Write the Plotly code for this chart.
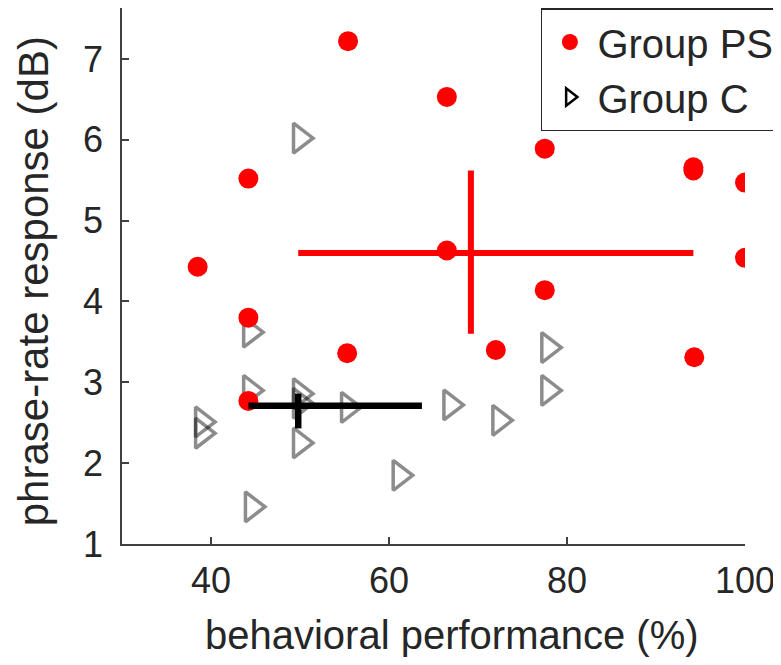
import plotly.graph_objects as go

# Group PS (red filled circles)
ps_perf = [55.4, 66.5, 77.5, 44.2, 94.2, 94.2, 100.0, 38.5, 66.5, 100.0, 77.5, 44.2, 55.3, 72.0, 94.3, 44.2]
ps_resp = [7.22, 6.53, 5.89, 5.52, 5.66, 5.62, 5.47, 4.43, 4.63, 4.54, 4.14, 3.80, 3.36, 3.40, 3.31, 2.77]

# Group C (open right triangles)
c_perf = [50.0, 44.4, 44.4, 50.0, 50.0, 55.4, 39.0, 39.0, 50.0, 61.2, 44.6, 66.9, 72.4, 77.9, 77.9]
c_resp = [6.02, 3.62, 2.90, 2.86, 2.74, 2.69, 2.51, 2.37, 2.25, 1.85, 1.46, 2.72, 2.53, 3.43, 2.90]

# summary crosses: centre, horizontal extent (minus/plus), vertical extent (minus/plus)
ps_center = [69.2, 4.60]
ps_x_err = [19.4, 25.0]
ps_y_err = [1.00, 1.02]

c_center = [49.8, 2.71]
c_x_err = [5.6, 13.9]
c_y_err = [0.28, 0.15]

x_ticks = [40, 60, 80, 100]
y_ticks = [1, 2, 3, 4, 5, 6, 7]

x_title = "behavioral performance (%)"
y_title = "phrase-rate response (dB)"

FONT = "Liberation Sans, Arial, Helvetica, sans-serif"
TXT = "#262626"

fig = go.Figure()

fig.add_trace(go.Scatter(
    x=c_perf, y=c_resp, mode="markers", showlegend=False,
    marker=dict(symbol="triangle-right-open", size=26, color="rgba(0,0,0,0.45)",
                line=dict(width=3.5, color="rgba(0,0,0,0.45)")),
))

fig.add_trace(go.Scatter(
    x=ps_perf, y=ps_resp, mode="markers", name="Group PS",
    marker=dict(symbol="circle", size=20, color="#ff0000", line=dict(width=0)),
))

# legend-only entry for Group C (black)
fig.add_trace(go.Scatter(
    x=[None], y=[None], mode="markers", name="Group C",
    marker=dict(symbol="triangle-right-open", size=15, color="black",
                line=dict(width=2.5, color="black")),
))

fig.add_trace(go.Scatter(
    x=[ps_center[0]], y=[ps_center[1]], mode="markers", showlegend=False,
    marker=dict(size=1, color="rgba(0,0,0,0)"),
    error_x=dict(type="data", symmetric=False, array=[ps_x_err[1]], arrayminus=[ps_x_err[0]],
                 color="#ff0000", thickness=6, width=0),
    error_y=dict(type="data", symmetric=False, array=[ps_y_err[1]], arrayminus=[ps_y_err[0]],
                 color="#ff0000", thickness=6, width=0),
))

fig.add_trace(go.Scatter(
    x=[c_center[0]], y=[c_center[1]], mode="markers", showlegend=False,
    marker=dict(size=1, color="rgba(0,0,0,0)"),
    error_x=dict(type="data", symmetric=False, array=[c_x_err[1]], arrayminus=[c_x_err[0]],
                 color="#000000", thickness=6.5, width=0),
    error_y=dict(type="data", symmetric=False, array=[c_y_err[1]], arrayminus=[c_y_err[0]],
                 color="#000000", thickness=6.5, width=0),
))

fig.update_layout(
    width=781, height=665,
    margin=dict(l=114, r=44, t=0, b=129, autoexpand=False),
    paper_bgcolor="white", plot_bgcolor="white",
    font=dict(family=FONT, size=34, color=TXT),
    showlegend=True,
    legend=dict(x=1.056, xanchor="right", y=1.0, yanchor="top",
                bgcolor="white", bordercolor=TXT, borderwidth=1.5,
                font=dict(family=FONT, size=40, color=TXT), itemsizing="trace",
                itemwidth=45, tracegroupgap=0),
    xaxis=dict(range=[30, 100], tickvals=x_ticks, showgrid=False, zeroline=False,
               showline=True, linecolor="#404040", linewidth=1.5,
               ticks="inside", ticklen=7, tickwidth=1.5, tickcolor="#404040",
               automargin=False, ticklabelstandoff=4,
               tickfont=dict(family=FONT, size=36)),
    yaxis=dict(range=[1, 7.63], tickvals=y_ticks, showgrid=False, zeroline=False,
               showline=True, linecolor="#404040", linewidth=1.5,
               ticks="inside", ticklen=7, tickwidth=1.5, tickcolor="#404040",
               automargin=False, ticklabelstandoff=10,
               tickfont=dict(family=FONT, size=36)),
    annotations=[
        dict(text=x_title, xref="paper", yref="paper", x=0.53, y=-0.17,
             xanchor="center", yanchor="middle", showarrow=False,
             font=dict(family=FONT, size=40, color=TXT)),
        dict(text=y_title, xref="paper", yref="paper", x=-0.143, y=0.49,
             xanchor="center", yanchor="middle", showarrow=False, textangle=-90,
             font=dict(family=FONT, size=42, color=TXT)),
    ],
)

fig.write_html("out.html")
